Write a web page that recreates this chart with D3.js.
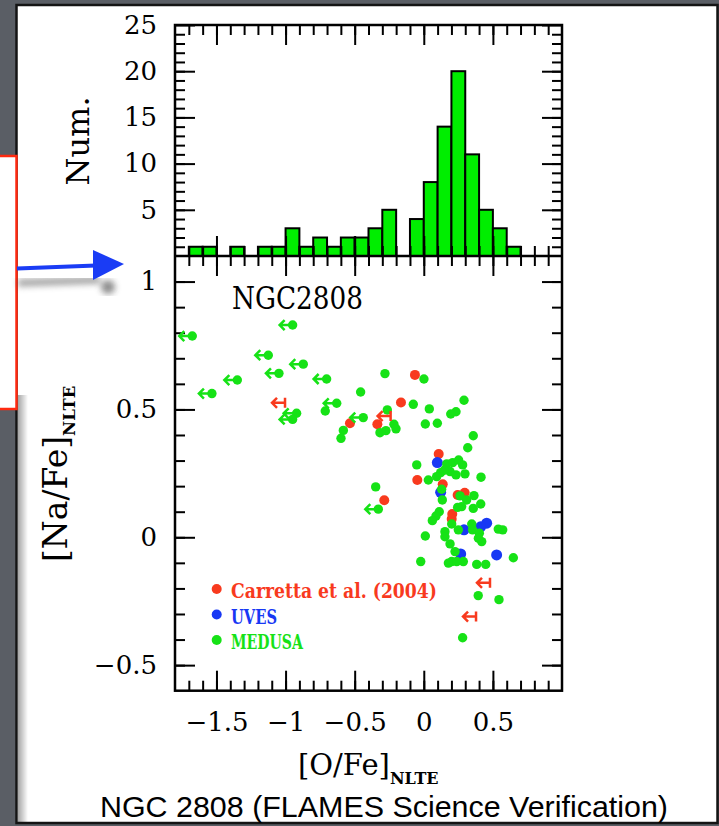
<!DOCTYPE html>
<html>
<head>
<meta charset="utf-8">
<script src="https://cdn.jsdelivr.net/npm/d3@7"></script>
<style>
  body { margin: 0; background: #5a5e65; }
  svg { display: block; }
</style>
</head>
<body>
<svg width="719" height="826"></svg>
<script>
// histogram of [O/Fe] (bin start, count), bins are 0.1 dex wide
const binStarts = [-1.7, -1.6, -1.5, -1.4, -1.3, -1.2, -1.1, -1.0, -0.9, -0.8, -0.7, -0.6,
  -0.5, -0.4, -0.3, -0.2, -0.1, 0.0, 0.1, 0.2, 0.3, 0.4, 0.5, 0.6]
const binCounts = [1, 1, 0, 1, 0, 1, 1, 3, 1, 2, 1, 2, 2, 3, 5, 0, 4, 8, 14, 20, 11, 5, 3, 1]

// [O/Fe], [Na/Fe] pairs
const carretta = [[-0.064, 0.635], [-0.165, 0.527], [-0.534, 0.446], [-0.336, 0.442], [0.108, 0.326],
  [-0.047, 0.224], [-0.286, 0.145], [0.137, 0.207], [0.296, 0.174], [0.245, 0.165], [0.206, 0.091], [0.202, 0.071]]
const carrettaLimits = [[-1.004, 0.526], [-0.240, 0.474], [0.479, -0.178], [0.378, -0.310]]
const uves = [[0.098, 0.292], [0.122, 0.176], [0.455, 0.055], [0.411, 0.041], [0.291, 0.029],
  [0.527, -0.069], [0.267, -0.065]]
const medusa = [
  [-0.281, 0.640], [0.001, 0.619], [-0.457, 0.568], [-0.076, 0.520], [0.040, 0.502], [0.291, 0.536],
  [-0.264, 0.498], [-0.713, 0.494], [0.233, 0.491], [0.195, 0.482], [0.011, 0.443], [0.098, 0.446],
  [-0.582, 0.418], [-0.599, 0.387], [-0.317, 0.409], [-0.274, 0.417], [-0.216, 0.442], [-0.201, 0.424],
  [0.358, 0.397], [0.318, 0.350], [-0.348, 0.197], [-0.051, 0.283],
  [0.166, 0.287], [0.209, 0.292], [0.252, 0.302], [0.281, 0.283], [0.122, 0.253], [0.190, 0.257],
  [0.233, 0.244], [0.298, 0.248], [0.033, 0.224], [0.093, 0.237], [0.148, 0.262],
  [0.414, 0.235], [0.129, 0.188], [0.134, 0.146], [0.262, 0.162], [0.310, 0.146], [0.274, 0.120],
  [0.245, 0.117], [0.363, 0.163], [0.412, 0.130], [0.358, 0.113],
  [0.112, 0.100], [0.088, 0.083], [0.062, 0.065],
  [0.011, 0.005], [0.153, 0.022], [0.153, 0.002], [0.202, 0.052], [0.250, 0.029], [0.347, 0.052],
  [0.353, 0.029], [0.402, 0.016], [0.419, -0.017], [0.395, -0.004], [0.539, 0.032], [0.571, 0.029],
  [0.190, -0.026], [0.226, -0.056], [0.202, -0.095], [0.178, -0.101], [0.238, -0.095], [0.286, -0.095],
  [0.383, -0.106], [0.448, -0.106], [0.648, -0.080], [-0.022, -0.095],
  [0.394, -0.228], [0.544, -0.244], [0.281, -0.393]]
const medusaLimits = [[-0.949, 0.830], [-1.675, 0.787], [-1.125, 0.712], [-0.872, 0.677], [-1.048, 0.641],
  [-0.703, 0.619], [-1.349, 0.615], [-1.533, 0.562], [-0.630, 0.524], [-0.920, 0.485], [-0.949, 0.461],
  [-0.438, 0.468], [-0.329, 0.110]]

const xTicks = [-1.5, -1, -0.5, 0, 0.5]
const histTicks = [5, 10, 15, 20, 25]
const naTicks = [-0.5, 0, 0.5, 1]
const legendLabels = ['Carretta et al. (2004)', 'UVES', 'MEDUSA']

const RED = '#f83a1e', BLUE = '#1838f4', GREEN = '#16e216', BAR = '#00ee00'
const serif = "'DejaVu Serif', serif"

const svg = d3.select('svg')

// slide background
svg.append('rect').attr('x', 16.5).attr('y', 5).attr('width', 701).attr('height', 818)
  .attr('fill', '#fff').attr('stroke', '#141414').attr('stroke-width', 2.5)

const defs = svg.append('defs')
defs.append('filter').attr('id', 'blur').append('feGaussianBlur').attr('stdDeviation', 3)
const grad = defs.append('linearGradient').attr('id', 'edge')
grad.append('stop').attr('offset', 0).attr('stop-color', '#000').attr('stop-opacity', 0.35)
grad.append('stop').attr('offset', 1).attr('stop-color', '#000').attr('stop-opacity', 0)
svg.append('rect').attr('x', 18).attr('y', 395).attr('width', 10).attr('height', 427).attr('fill', 'url(#edge)')

const x = d3.scaleLinear().domain([-1.8, 1.0]).range([175, 562])
const yH = d3.scaleLinear().domain([0, 25]).range([256, 25])
const yS = d3.scaleLinear().domain([-0.6, 1.1]).range([690.7, 256])

const fmt = d3.format('~g')
const xMinor = d3.range(-17, 10).map(i => i / 10)
const hMinor = d3.range(1, 25)
const sMinor = d3.range(-5, 11).map(i => i / 10)

// histogram bars
svg.append('g').selectAll('rect')
  .data(binStarts.map((b, i) => [b, binCounts[i]]).filter(d => d[1] > 0))
  .join('rect')
  .attr('x', d => x(d[0]))
  .attr('width', d => x(d[0] + 0.1) - x(d[0]))
  .attr('y', d => yH(d[1]))
  .attr('height', d => yH(0) - yH(d[1]))
  .attr('fill', BAR).attr('stroke', '#000').attr('stroke-width', 2)

function addAxis(make, scale, tr, major, minor, labels, pad) {
  svg.append('g').attr('transform', tr)
    .call(make(scale).tickValues(minor).tickSize(-10).tickFormat(''))
    .call(g => g.select('.domain').remove())
    .call(g => g.selectAll('line').attr('stroke-width', 2))
  svg.append('g').attr('transform', tr)
    .call(make(scale).tickValues(major).tickSize(-20).tickPadding(pad || 0).tickFormat(labels ? fmt : ''))
    .call(g => g.select('.domain').remove())
    .call(g => g.selectAll('line').attr('stroke-width', 2))
    .attr('font-family', serif).attr('font-size', 26)
}

// histogram axes
addAxis(d3.axisLeft, yH, 'translate(175,0)', histTicks, hMinor, true, 18)
addAxis(d3.axisRight, yH, 'translate(562,0)', histTicks, hMinor, false)
addAxis(d3.axisTop, x, 'translate(0,25)', xTicks, xMinor, false)
addAxis(d3.axisBottom, x, 'translate(0,256)', xTicks, xMinor, false)

// scatter axes
addAxis(d3.axisTop, x, 'translate(0,256)', xTicks, xMinor, false)
addAxis(d3.axisBottom, x, 'translate(0,690.7)', xTicks, xMinor, true, 22)
addAxis(d3.axisLeft, yS, 'translate(175,0)', naTicks, sMinor, true, 18)
addAxis(d3.axisRight, yS, 'translate(562,0)', naTicks, sMinor, false)

svg.append('rect').attr('x', 175).attr('y', 25).attr('width', 387).attr('height', 665.7)
  .attr('fill', 'none').attr('stroke', '#000').attr('stroke-width', 2.5)
svg.append('line').attr('x1', 175).attr('x2', 562).attr('y1', 256).attr('y2', 256)
  .attr('stroke', '#000').attr('stroke-width', 2.5)

// scatter points
const pts = svg.append('g')
pts.selectAll('.red').data(carretta).join('circle').attr('class', 'red')
  .attr('cx', d => x(d[0])).attr('cy', d => yS(d[1])).attr('r', 5).attr('fill', RED)
pts.selectAll('.blue').data(uves).join('circle').attr('class', 'blue')
  .attr('cx', d => x(d[0])).attr('cy', d => yS(d[1])).attr('r', 5.5).attr('fill', BLUE)
pts.selectAll('.green').data(medusa).join('circle').attr('class', 'green')
  .attr('cx', d => x(d[0])).attr('cy', d => yS(d[1])).attr('r', 4.7).attr('fill', GREEN)

// upper limits in [O/Fe]
const gl = pts.selectAll('.glim').data(medusaLimits).join('g').attr('class', 'glim')
  .attr('transform', d => `translate(${x(d[0])},${yS(d[1])})`)
gl.append('circle').attr('r', 4.7).attr('fill', GREEN)
gl.append('path').attr('d', 'M0,0H-13M-8,-5L-13,0L-8,5')
  .attr('fill', 'none').attr('stroke', GREEN).attr('stroke-width', 2.5)

pts.selectAll('.rlim').data(carrettaLimits).join('path').attr('class', 'rlim')
  .attr('transform', d => `translate(${x(d[0])},${yS(d[1])})`)
  .attr('d', 'M0,-5V5M0,0H-13M-8,-5L-13,0L-8,5')
  .attr('fill', 'none').attr('stroke', RED).attr('stroke-width', 2.5)

// legend
const leg = svg.append('g')
const legColors = [RED, BLUE, GREEN]
const legWidths = [206, 46, 72]
legendLabels.forEach((t, i) => {
  const cy = 589 + i * 25.5
  leg.append('circle').attr('cx', 216.7).attr('cy', cy).attr('r', 5).attr('fill', legColors[i])
  leg.append('text').attr('x', 231).attr('y', cy + 9).text(t)
    .attr('font-family', serif).attr('font-weight', 'bold').attr('font-size', 20)
    .attr('textLength', legWidths[i]).attr('lengthAdjust', 'spacingAndGlyphs')
    .attr('fill', legColors[i])
})

// labels
svg.append('text').attr('x', 232).attr('y', 309).text('NGC2808')
  .attr('font-family', serif).attr('font-size', 31)
  .attr('textLength', 131).attr('lengthAdjust', 'spacingAndGlyphs')

svg.append('text').attr('transform', 'translate(89,141) rotate(-90)')
  .attr('text-anchor', 'middle').attr('font-family', serif).attr('font-size', 32).text('Num.')

const yl = svg.append('text').attr('transform', 'translate(67,562) rotate(-90)').attr('font-family', serif)
yl.append('tspan').attr('font-size', 33).text('[Na/Fe]')
yl.append('tspan').attr('font-size', 16.5).attr('font-weight', 'bold').attr('dy', 8).text('NLTE')

const xl = svg.append('text').attr('x', 298).attr('y', 775).attr('font-family', serif)
xl.append('tspan').attr('font-size', 29).text('[O/Fe]')
xl.append('tspan').attr('font-size', 16).attr('font-weight', 'bold').attr('dy', 9).text('NLTE')

svg.append('text').attr('x', 384).attr('y', 817).attr('text-anchor', 'middle')
  .attr('font-family', "'Liberation Sans', Arial, sans-serif").attr('font-size', 30)
  .attr('textLength', 568).attr('lengthAdjust', 'spacingAndGlyphs')
  .text('NGC 2808 (FLAMES Science Verification)')

// callout box and arrow from the slide
svg.append('rect').attr('x', -5).attr('y', 156).attr('width', 21.5).attr('height', 253)
  .attr('fill', '#fff').attr('stroke', '#ff2a10').attr('stroke-width', 2.5)
const shadow = svg.append('g').attr('filter', 'url(#blur)').attr('opacity', 0.55)
shadow.append('line').attr('x1', 18).attr('y1', 283).attr('x2', 100).attr('y2', 280)
  .attr('stroke', '#555').attr('stroke-width', 7)
shadow.append('circle').attr('cx', 108).attr('cy', 287).attr('r', 7).attr('fill', '#333')
svg.append('line').attr('x1', 17).attr('y1', 268.5).attr('x2', 96).attr('y2', 265.5)
  .attr('stroke', '#1a3cf5').attr('stroke-width', 4)
svg.append('path').attr('d', 'M93,250L124,264L93,280Z').attr('fill', '#1a3cf5')
</script>
</body>
</html>
